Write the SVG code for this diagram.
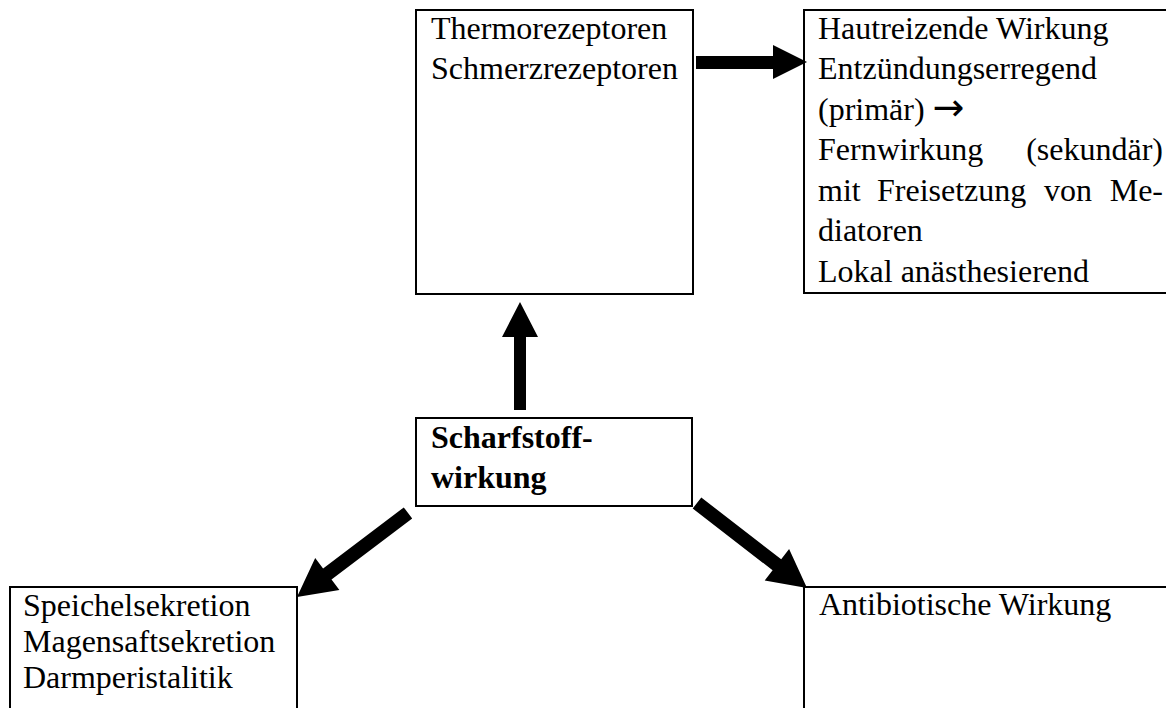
<svg xmlns="http://www.w3.org/2000/svg" width="1166" height="708" viewBox="0 0 1166 708">
<style>
.box{fill:#fff;stroke:#000;stroke-width:2}
.t{font-family:"Liberation Serif","Times New Roman",serif;font-size:32px;fill:#000}
.b{font-weight:bold}
.sym{font-family:"DejaVu Sans",sans-serif;font-size:38px}
.arr{fill:#000;stroke:none}
</style>
<rect width="1166" height="708" fill="#fff"/>
<g id="node-rezeptoren">
<rect class="box" x="416" y="10" width="277" height="284"/>
<text class="t" x="431" y="39">Thermorezeptoren</text>
<text class="t" x="431" y="79">Schmerzrezeptoren</text>
</g>
<g id="node-haut">
<rect class="box" x="804" y="10" width="400" height="283"/>
<text class="t" x="818" y="39">Hautreizende Wirkung</text>
<text class="t" x="818" y="79">Entzündungserregend</text>
<text class="t" x="818" y="120">(primär) <tspan class="sym">→</tspan></text>
<text class="t" x="818" y="160">Fernwirkung</text>
<text class="t" x="1163" y="160" text-anchor="end">(sekundär)</text>
<text class="t" x="818" y="201">mit</text>
<text class="t" x="877" y="201">Freisetzung</text>
<text class="t" x="1044" y="201">von</text>
<text class="t" x="1163" y="201" text-anchor="end">Me-</text>
<text class="t" x="818" y="241">diatoren</text>
<text class="t" x="818" y="282">Lokal anästhesierend</text>
</g>
<g id="node-scharfstoff">
<rect class="box" x="416" y="418" width="276" height="88"/>
<text class="t b" x="431" y="448">Scharfstoff-</text>
<text class="t b" x="431" y="488">wirkung</text>
</g>
<g id="node-sekretion">
<rect class="box" x="10" y="587" width="287" height="140"/>
<text class="t" x="23" y="616">Speichelsekretion</text>
<text class="t" x="23" y="652">Magensaftsekretion</text>
<text class="t" x="23" y="688">Darmperistalitik</text>
</g>
<g id="node-antibiotisch">
<rect class="box" x="804" y="587" width="400" height="140"/>
<text class="t" x="819" y="615">Antibiotische Wirkung</text>
</g>
<g id="connectors">
<polygon class="arr" points="696,56 773,56 773,45 807,62 773,79 773,69 696,69"/>
<polygon class="arr" points="514,410 514,337 502,337 520,302 538,337 526,337 526,410"/>
<polygon class="arr" points="412.2,518.6 331.5,579.6 339.4,590 297,597 315.2,558 323.1,568.4 403.8,507.4"/>
<polygon class="arr" points="692.7,508.5 772.6,570.3 764.7,580.6 807,588 789.1,549 781.2,559.3 701.3,497.5"/>
</g>
</svg>
